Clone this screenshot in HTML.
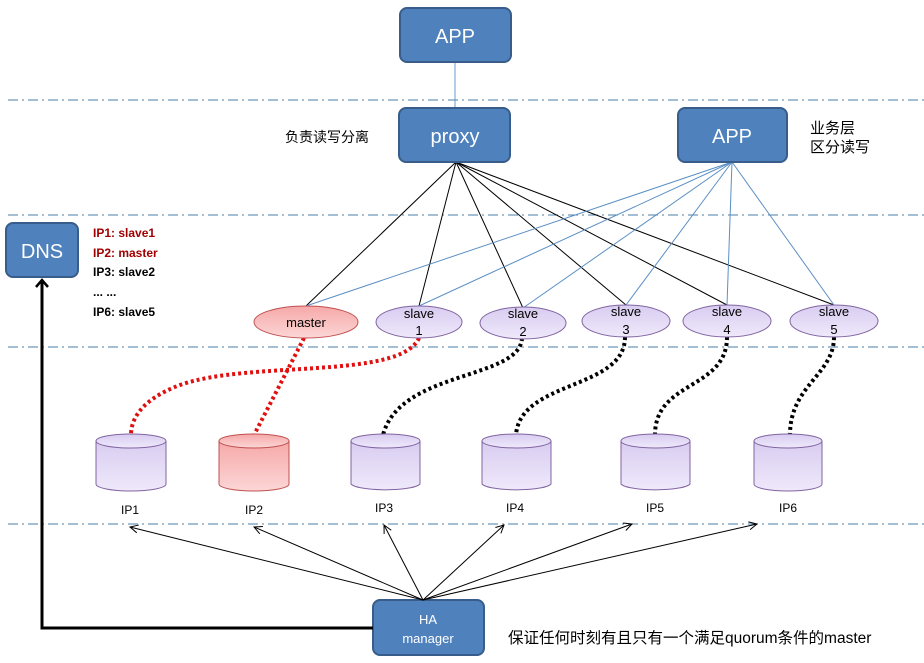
<!DOCTYPE html>
<html><head><meta charset="utf-8"><style>
html,body{margin:0;padding:0;background:#fff;}
svg{display:block;}
text{font-family:"Liberation Sans","Noto Sans CJK SC",sans-serif;}
</style></head><body>
<svg width="924" height="663" viewBox="0 0 924 663" xmlns="http://www.w3.org/2000/svg">
<defs>
<linearGradient id="pur" x1="0" y1="0" x2="0" y2="1"><stop offset="0" stop-color="#d8ccf0"/><stop offset="1" stop-color="#efe9fb"/></linearGradient>
<linearGradient id="red" x1="0" y1="0" x2="0" y2="1"><stop offset="0" stop-color="#f6a8a8"/><stop offset="1" stop-color="#fcd6d6"/></linearGradient>
<marker id="ar" markerWidth="10" markerHeight="10" refX="9" refY="5" orient="auto" markerUnits="userSpaceOnUse"><path d="M1,1 L9,5 L1,9" fill="none" stroke="#000" stroke-width="1"/></marker>
<marker id="ab" markerWidth="14" markerHeight="16" refX="10" refY="7" orient="auto" markerUnits="userSpaceOnUse"><path d="M3,1 L10,7 L3,13" fill="none" stroke="#000" stroke-width="2.5"/></marker>
</defs>
<g stroke="#4a7ea8" stroke-width="1" stroke-dasharray="10,4,2,4">
<line x1="8" y1="100" x2="924" y2="100"/>
<line x1="8" y1="215" x2="924" y2="215"/>
<line x1="8" y1="347" x2="924" y2="347"/>
<line x1="8" y1="524" x2="924" y2="524"/>
</g>
<line x1="455" y1="62" x2="455" y2="108" stroke="#6a98c8"/>
<g stroke="#000" stroke-width="1">
<line x1="456" y1="162" x2="306" y2="306"/>
<line x1="456" y1="162" x2="419" y2="306"/>
<line x1="456" y1="162" x2="523" y2="308"/>
<line x1="456" y1="162" x2="626" y2="305"/>
<line x1="456" y1="162" x2="727" y2="305"/>
<line x1="456" y1="162" x2="834" y2="305"/>
</g>
<g stroke="#5b8fc4" stroke-width="1">
<line x1="732" y1="162" x2="306" y2="306"/>
<line x1="732" y1="162" x2="419" y2="306"/>
<line x1="732" y1="162" x2="523" y2="308"/>
<line x1="732" y1="162" x2="626" y2="305"/>
<line x1="732" y1="162" x2="727" y2="305"/>
<line x1="732" y1="162" x2="834" y2="305"/>
</g>
<g fill="#4f81bd" stroke="#385d8a" stroke-width="2">
<rect x="400" y="8" width="111" height="54" rx="7"/>
<rect x="399" y="108" width="111" height="54" rx="7"/>
<rect x="678" y="108" width="109" height="54" rx="7"/>
<rect x="6" y="223" width="72" height="54" rx="7"/>
<rect x="373" y="600" width="111" height="55" rx="7"/>
</g>
<g fill="#fff" text-anchor="middle">
<text x="455" y="43" font-size="20">APP</text>
<text x="455" y="143" font-size="20">proxy</text>
<text x="732" y="143" font-size="20">APP</text>
<text x="42" y="258" font-size="20">DNS</text>
<text x="428" y="624" font-size="13">HA</text>
<text x="428" y="643" font-size="13">manager</text>
</g>
<text x="285" y="142" font-size="14">负责读写分离</text>
<text x="810" y="133" font-size="15">业务层</text>
<text x="810" y="152" font-size="15">区分读写</text>
<g font-size="12" font-weight="bold">
<text x="93" y="237" fill="#a00000">IP1: slave1</text>
<text x="93" y="257" fill="#a00000">IP2: master</text>
<text x="93" y="276">IP3: slave2</text>
<text x="93" y="296">... ...</text>
<text x="93" y="316">IP6: slave5</text>
</g>
<g fill="none" stroke-width="4" stroke-dasharray="3,3">
<path d="M419,338 C400,380 250,360 180,385 C140,400 131,420 131,435" stroke="#e01010"/>
<path d="M304,338 L254,435" stroke="#e01010"/>
<path d="M522,338 C520,380 400,370 383,435" stroke="#000"/>
<path d="M625,337 C625,390 520,380 516,435" stroke="#000"/>
<path d="M727,337 C727,390 655,380 655,435" stroke="#000"/>
<path d="M834,337 C834,375 790,385 790,435" stroke="#000"/>
</g>
<ellipse cx="306" cy="322" rx="52" ry="16" fill="url(#red)" stroke="#c05050"/>
<g fill="url(#pur)" stroke="#8064a2">
<ellipse cx="419" cy="322" rx="43" ry="16"/>
<ellipse cx="523" cy="323" rx="43" ry="16"/>
<ellipse cx="626" cy="321" rx="44" ry="16"/>
<ellipse cx="727" cy="321" rx="44" ry="16"/>
<ellipse cx="834" cy="321" rx="44" ry="16"/>
</g>
<g font-size="13" text-anchor="middle">
<text x="306" y="327">master</text>
<text x="419" y="318">slave</text><text x="419" y="335">1</text>
<text x="523" y="318">slave</text><text x="523" y="336">2</text>
<text x="626" y="316">slave</text><text x="626" y="334">3</text>
<text x="727" y="316">slave</text><text x="727" y="334">4</text>
<text x="834" y="316">slave</text><text x="834" y="334">5</text>
</g>
<g stroke-width="1">
<g fill="url(#pur)" stroke="#8064a2">
<path d="M96,441 v43 a35,7 0 0 0 70,0 v-43"/><ellipse cx="131" cy="441" rx="35" ry="7"/>
<path d="M351,441 v43 a35,7 0 0 0 69,0 v-43"/><ellipse cx="385.5" cy="441" rx="34.5" ry="7"/>
<path d="M482,441 v43 a35,7 0 0 0 69,0 v-43"/><ellipse cx="516.5" cy="441" rx="34.5" ry="7"/>
<path d="M621,441 v43 a35,7 0 0 0 69,0 v-43"/><ellipse cx="655.5" cy="441" rx="34.5" ry="7"/>
<path d="M754,441 v43 a34,7 0 0 0 68,0 v-43"/><ellipse cx="788" cy="441" rx="34" ry="7"/>
</g>
<g fill="url(#red)" stroke="#c05050">
<path d="M219,441 v43 a35,7 0 0 0 70,0 v-43"/><ellipse cx="254" cy="441" rx="35" ry="7"/>
</g>
</g>
<g font-size="12" text-anchor="middle">
<text x="130" y="514">IP1</text><text x="254" y="514">IP2</text><text x="384" y="512">IP3</text>
<text x="515" y="512">IP4</text><text x="655" y="512">IP5</text><text x="788" y="512">IP6</text>
</g>
<g stroke="#000" stroke-width="1" marker-end="url(#ar)">
<line x1="423" y1="600" x2="130" y2="527"/>
<line x1="423" y1="600" x2="254" y2="527"/>
<line x1="423" y1="600" x2="384" y2="525"/>
<line x1="423" y1="600" x2="504" y2="525"/>
<line x1="423" y1="600" x2="632" y2="524"/>
<line x1="423" y1="600" x2="757" y2="524"/>
</g>
<path d="M373,628 H42 V280" fill="none" stroke="#000" stroke-width="3" marker-end="url(#ab)"/>
<text x="508" y="643" font-size="15.5">保证任何时刻有且只有一个满足quorum条件的master</text>
</svg>
</body></html>
